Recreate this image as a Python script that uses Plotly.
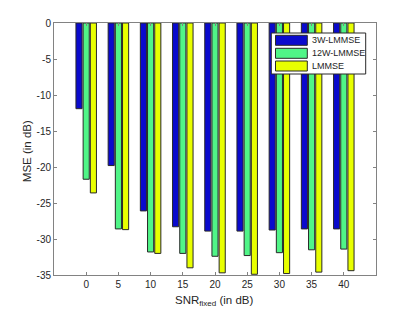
import plotly.graph_objects as go

snr = [0, 5, 10, 15, 20, 25, 30, 35, 40]
mse_3w = [-11.9, -19.8, -26.1, -28.3, -28.9, -28.9, -28.75, -28.6, -28.6]
mse_12w = [-21.7, -28.6, -31.8, -32.0, -32.4, -32.3, -31.9, -31.5, -31.4]
mse_lmmse = [-23.6, -28.7, -32.0, -34.0, -34.7, -34.9, -34.8, -34.6, -34.4]
series_names = ["3W-LMMSE", "12W-LMMSE", "LMMSE"]
series_colors = ["rgb(10,10,205)", "rgb(80,245,135)", "rgb(232,255,0)"]
y_ticks = [0, -5, -10, -15, -20, -25, -30, -35]

W, H = 415, 312
L, R, T, B = 54, 39, 23, 37
PW, PH = W - L - R, H - T - B

def px(xp):
    return (xp - L) / PW

def py(yp):
    return 1 - (yp - T) / PH

fig = go.Figure()
for name, vals, col in zip(series_names, [mse_3w, mse_12w, mse_lmmse], series_colors):
    fig.add_trace(go.Bar(
        x=snr, y=vals, name=name,
        marker=dict(color=col, line=dict(color="rgb(40,40,40)", width=1)),
    ))

font = "Liberation Sans, Arial, sans-serif"
axis_common = dict(
    showline=True, linecolor="rgb(130,130,130)", linewidth=1, mirror="ticks",
    ticks="inside", ticklen=3, tickcolor="rgb(130,130,130)",
    showgrid=False, zeroline=False, automargin=False,
    tickfont=dict(family=font, size=10, color="rgb(38,38,38)"),
)

shapes = []
annotations = []
# legend box (manual, MATLAB-style wide swatches)
shapes.append(dict(type="rect", xref="paper", yref="paper",
                   x0=px(271.3), x1=px(365.7), y0=py(74), y1=py(33),
                   fillcolor="white", line=dict(color="rgb(40,40,40)", width=1), layer="above"))
row_y = [40.3, 53.3, 66]
for name, col, yc in zip(series_names, series_colors, row_y):
    shapes.append(dict(type="rect", xref="paper", yref="paper",
                       x0=px(275.5), x1=px(307.3), y0=py(yc + 5), y1=py(yc - 5),
                       fillcolor=col, line=dict(color="rgb(40,40,40)", width=1), layer="above"))
    annotations.append(dict(text=name, xref="paper", yref="paper", x=px(310), y=py(yc),
                            xanchor="left", yanchor="middle", showarrow=False,
                            font=dict(family=font, size=9, color="rgb(30,30,30)")))

annotations.append(dict(text="SNR<sub>fixed</sub> (in dB)", xref="paper", yref="paper",
                        x=px(214.5), y=py(301), xanchor="center", yanchor="middle", showarrow=False,
                        font=dict(family=font, size=11.5, color="rgb(38,38,38)")))
annotations.append(dict(text="MSE (in dB)", xref="paper", yref="paper",
                        x=px(26.7), y=py(151.5), xanchor="center", yanchor="middle", showarrow=False,
                        textangle=-90,
                        font=dict(family=font, size=11.5, color="rgb(38,38,38)")))

fig.update_layout(
    width=W, height=H,
    margin=dict(l=L, r=R, t=T, b=B),
    paper_bgcolor="white", plot_bgcolor="white",
    barmode="group", bargap=0.33, bargroupgap=0.15,
    showlegend=False,
    shapes=shapes, annotations=annotations,
    xaxis=dict(range=[-5, 45], tickvals=snr, ticktext=[str(v) for v in snr], **axis_common),
    yaxis=dict(range=[-35, 0], tickvals=y_ticks, ticktext=[str(v) for v in y_ticks], **axis_common),
)

fig.write_html("out.html", config={"displayModeBar": False},
               post_script="document.body.style.margin='0';")
